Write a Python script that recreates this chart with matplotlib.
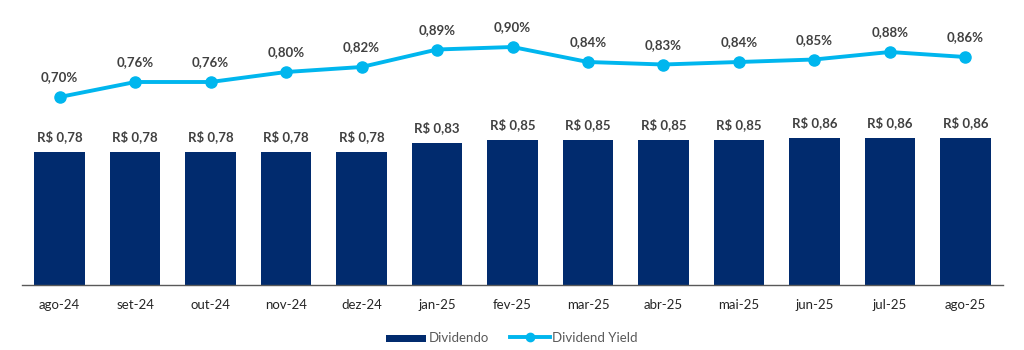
import matplotlib
matplotlib.use("Agg")
import matplotlib.pyplot as plt
import numpy as np

meses = ["ago-24", "set-24", "out-24", "nov-24", "dez-24", "jan-25", "fev-25",
         "mar-25", "abr-25", "mai-25", "jun-25", "jul-25", "ago-25"]
dividendo = [0.78, 0.78, 0.78, 0.78, 0.78, 0.83, 0.85, 0.85, 0.85, 0.85, 0.86, 0.86, 0.86]
dy = [0.70, 0.76, 0.76, 0.80, 0.82, 0.89, 0.90, 0.84, 0.83, 0.84, 0.85, 0.88, 0.86]

navy = "#012B6E"
cyan = "#00B6EE"
txt = "#404040"

plt.rcParams['font.family'] = ['Lato', 'DejaVu Sans']

fig = plt.figure(figsize=(10.24, 3.5), dpi=100)
ax = fig.add_axes([22 / 1024, 1 - 285 / 350, 981 / 1024, 275 / 350])
x = np.arange(len(meses))

ax.bar(x, dividendo, width=0.67, color=navy, label="Dividendo", zorder=2)
for xi, v in zip(x, dividendo):
    ax.text(xi, v + 0.055, "R$ " + f"{v:.2f}".replace(".", ","), ha="center", va="bottom",
            fontsize=9.5, fontweight="bold", color=txt)
ax.set_ylim(0, 275 / 170.5)
ax.set_xlim(-0.5, len(meses) - 0.5)
ax.set_yticks([])
for s in ["top", "right", "left"]:
    ax.spines[s].set_visible(False)
ax.spines["bottom"].set_color("#595959")
ax.spines["bottom"].set_linewidth(1)
ax.set_xticks(x)
ax.set_xticklabels(meses, fontsize=9.5, color="#262626")
ax.tick_params(axis="x", length=0, pad=10)

ax2 = ax.twinx()
ax2.plot(x, dy, color=cyan, lw=2.8, marker="o", ms=8, label="Dividend Yield", zorder=3)
for xi, v in zip(x, dy):
    ax2.text(xi, v + 0.055, f"{v:.2f}".replace(".", ",") + "%", ha="center", va="bottom",
             fontsize=9.5, fontweight="bold", color=txt)
lo = 0.70 - 188 / 250
ax2.set_ylim(lo, lo + 275 / 250)
ax2.set_yticks([])
for s in ["top", "right", "left", "bottom"]:
    ax2.spines[s].set_visible(False)

h1, l1 = ax.get_legend_handles_labels()
h2, l2 = ax2.get_legend_handles_labels()
leg = fig.legend(h1 + h2, l1 + l2, loc="center", bbox_to_anchor=(0.5, 1 - 338 / 350), ncol=2,
                 frameon=False, fontsize=9.5, handlelength=3.0, handletextpad=0.2,
                 columnspacing=1.6, labelcolor="#595959", markerscale=0.75)
leg.legend_handles[0].set_height(5)

fig.savefig("out.png", dpi=100)
